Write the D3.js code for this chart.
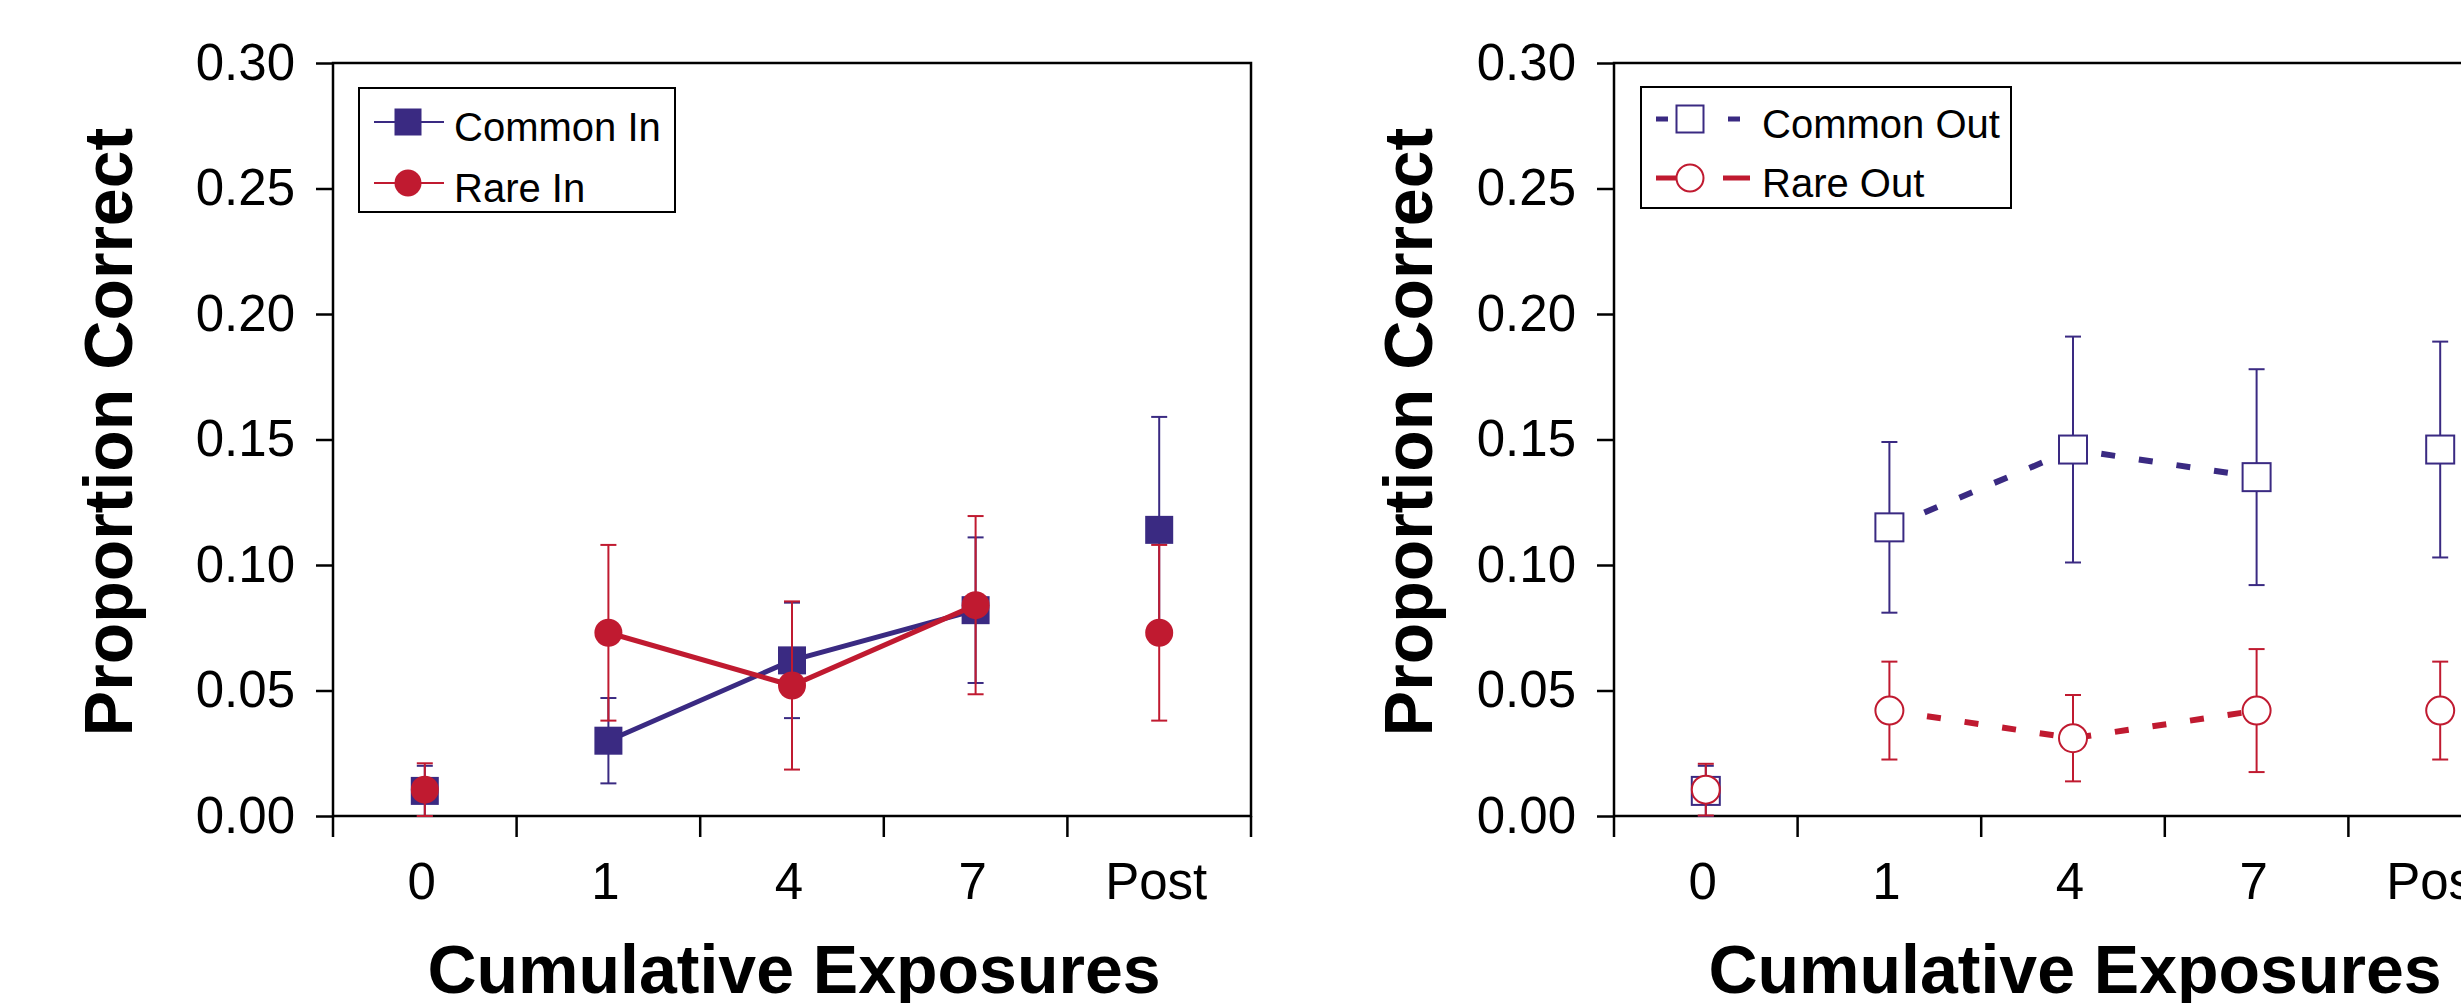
<!DOCTYPE html>
<html>
<head>
<meta charset="utf-8">
<script src="https://cdn.jsdelivr.net/npm/d3@7"></script>
<style>
  html, body { margin: 0; padding: 0; background: #fff; }
  svg { display: block; }
  text { font-family: "Liberation Sans", Arial, sans-serif; fill: #000; }
</style>
</head>
<body>
<svg id="chart" width="2461" height="1003"></svg>
<script>
// ---------- Data ----------
const categories = ["0", "1", "4", "7", "Post"];
const yTicks = [0, 0.05, 0.10, 0.15, 0.20, 0.25, 0.30];
const connectedCategories = ["1", "4", "7"];

const commonIn    = [0.010, 0.030, 0.062, 0.082, 0.114];
const commonInErr = [0.010, 0.017, 0.023, 0.029, 0.045];
const rareIn      = [0.0105, 0.073, 0.052, 0.084, 0.073];
const rareInErr   = [0.0105, 0.035, 0.0335, 0.0355, 0.035];

const commonOut    = [0.010, 0.115, 0.146, 0.135, 0.146];
const commonOutErr = [0.010, 0.034, 0.045, 0.043, 0.043];
const rareOut      = [0.0105, 0.042, 0.031, 0.042, 0.042];
const rareOutErr   = [0.0103, 0.0195, 0.0172, 0.0245, 0.0195];

const BLUE = "#3a2a82";
const RED = "#c01a30";

const svg = d3.select("#chart");

function drawPanel(opts) {
  const x = d3.scaleBand().domain(categories).range([opts.left, opts.left + 918]).padding(0);
  const y = d3.scaleLinear().domain([0, 0.30]).range([816, 63]);
  const g = svg.append("g");

  // y axis with ticks and labels
  const yAxis = d3.axisLeft(y).tickValues(yTicks).tickFormat(d3.format(".2f"))
    .tickSize(17).tickPadding(21);
  const ya = g.append("g").attr("transform", `translate(${opts.left},0)`).call(yAxis);
  ya.select(".domain").remove();
  ya.selectAll(".tick line").attr("stroke", "#000").attr("stroke-width", 2.5);
  ya.selectAll(".tick text").attr("font-size", 51).attr("font-family", "Liberation Sans, Arial, sans-serif").attr("fill", "#000");

  // x axis labels (band centres)
  const xAxis = d3.axisBottom(x).tickSize(0).tickPadding(47);
  const xa = g.append("g").attr("transform", "translate(-3,816)").call(xAxis);
  xa.select(".domain").remove();
  xa.selectAll(".tick text").attr("font-size", 51).attr("font-family", "Liberation Sans, Arial, sans-serif").attr("fill", "#000");

  // x boundary ticks
  const bounds = categories.map(c => x(c)).concat([x.range()[1]]);
  g.selectAll(".xb").data(bounds).enter().append("line")
    .attr("x1", d => d).attr("x2", d => d).attr("y1", 816).attr("y2", 837)
    .attr("stroke", "#000").attr("stroke-width", 2.5);

  // frame
  g.append("rect").attr("x", x.range()[0]).attr("y", y(0.30))
    .attr("width", x.range()[1] - x.range()[0]).attr("height", y(0) - y(0.30))
    .attr("fill", "none").attr("stroke", "#000").attr("stroke-width", 2.5);

  // axis titles
  g.append("text").attr("transform", `translate(${opts.yTitleX},432) rotate(-90)`)
    .attr("text-anchor", "middle").attr("font-size", 68).attr("font-weight", "bold")
    .text("Proportion Correct");
  g.append("text").attr("x", opts.left + 461).attr("y", 993)
    .attr("text-anchor", "middle").attr("font-size", 68).attr("font-weight", "bold")
    .text("Cumulative Exposures");

  const cx = c => x(c) + x.bandwidth() / 2;
  const M = 28;

  opts.series.forEach(s => {
    const pts = categories.map((c, i) => ({ c, v: s.values[i], e: s.err[i] }));
    const sg = g.append("g");
    // error bars
    pts.forEach(p => {
      sg.append("line").attr("x1", cx(p.c)).attr("x2", cx(p.c))
        .attr("y1", y(p.v - p.e)).attr("y2", y(p.v + p.e))
        .attr("stroke", s.color).attr("stroke-width", 2);
      [p.v - p.e, p.v + p.e].forEach(vv => {
        sg.append("line").attr("x1", cx(p.c) - 8).attr("x2", cx(p.c) + 8)
          .attr("y1", y(vv)).attr("y2", y(vv))
          .attr("stroke", s.color).attr("stroke-width", 2);
      });
    });
    // connecting line
    const linePts = pts.filter(p => connectedCategories.includes(p.c));
    sg.append("path").datum(linePts)
      .attr("d", d3.line().x(p => cx(p.c)).y(p => y(p.v)))
      .attr("fill", "none").attr("stroke", s.color)
      .attr("stroke-width", s.dashed ? 6 : 5)
      .attr("stroke-dasharray", s.dashed ? "14,24" : null);
    // markers
    pts.forEach(p => {
      if (s.shape === "square") {
        sg.append("rect").attr("x", cx(p.c) - M / 2).attr("y", y(p.v) - M / 2)
          .attr("width", M).attr("height", M)
          .attr("fill", s.open ? "#fff" : s.color)
          .attr("stroke", s.color).attr("stroke-width", s.open ? 2 : 0);
      } else {
        sg.append("circle").attr("cx", cx(p.c)).attr("cy", y(p.v)).attr("r", M / 2)
          .attr("fill", s.open ? "#fff" : s.color)
          .attr("stroke", s.color).attr("stroke-width", s.open ? 2 : 0);
      }
    });
  });

  // legend
  const L = opts.legend;
  const lg = g.append("g");
  lg.append("rect").attr("x", L.x).attr("y", L.y).attr("width", L.w).attr("height", L.h)
    .attr("fill", "#fff").attr("stroke", "#000").attr("stroke-width", 2);
  opts.series.forEach((s, i) => {
    const ly = L.rows[i];
    const mx = L.x + 49;
    lg.append("line").attr("x1", L.x + 15).attr("x2", L.x + L.sampleEnd[i])
      .attr("y1", ly).attr("y2", ly).attr("stroke", s.color)
      .attr("stroke-width", s.dashed ? 5 : 2)
      .attr("stroke-dasharray", L.dash ? L.dash[i] : null);
    if (s.shape === "square") {
      lg.append("rect").attr("x", mx - 13.5).attr("y", ly - 13.5).attr("width", 27).attr("height", 27)
        .attr("fill", s.open ? "#fff" : s.color).attr("stroke", s.color).attr("stroke-width", s.open ? 2 : 0);
    } else {
      lg.append("circle").attr("cx", mx).attr("cy", ly).attr("r", 13.5)
        .attr("fill", s.open ? "#fff" : s.color).attr("stroke", s.color).attr("stroke-width", s.open ? 2 : 0);
    }
    lg.append("text").attr("x", L.textX).attr("y", ly + 19).attr("font-size", 40).text(s.name);
  });
}

drawPanel({
  left: 333,
  yTitleX: 132,
  series: [
    { name: "Common In", values: commonIn, err: commonInErr, color: BLUE, shape: "square", open: false, dashed: false },
    { name: "Rare In", values: rareIn, err: rareInErr, color: RED, shape: "circle", open: false, dashed: false }
  ],
  legend: { x: 359, y: 88, w: 316, h: 124, rows: [122, 183], textX: 454, sampleEnd: [85, 85] }
});

drawPanel({
  left: 1614,
  yTitleX: 1432,
  series: [
    { name: "Common Out", values: commonOut, err: commonOutErr, color: BLUE, shape: "square", open: true, dashed: true },
    { name: "Rare Out", values: rareOut, err: rareOutErr, color: RED, shape: "circle", open: true, dashed: true }
  ],
  legend: { x: 1641, y: 87, w: 370, h: 121, rows: [119, 178], textX: 1762, sampleEnd: [99, 109],
            dash: ["12,60,12", "31,36,27"] }
});
</script>
</body>
</html>
